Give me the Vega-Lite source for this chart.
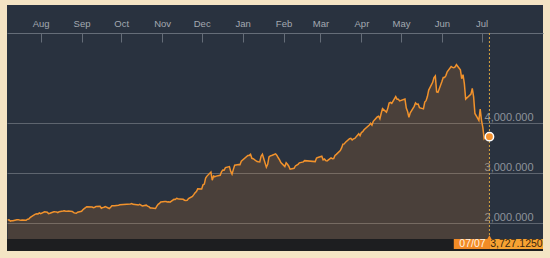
{
  "$schema": "https://vega.github.io/schema/vega-lite/v6.json",
  "width": 536,
  "height": 246,
  "autosize": {"type": "none"},
  "padding": {"left": 7, "top": 5, "right": 7, "bottom": 7},
  "background": "#f4e4c4",
  "config": {
    "view": {"fill": "#29323f", "stroke": null},
    "font": "Liberation Sans"
  },
  "datasets": {
    "series": [
      {"date":"2014-07-07","close":2059},{"date":"2014-07-08","close":2064},{"date":"2014-07-09","close":2038},{"date":"2014-07-10","close":2046},{"date":"2014-07-11","close":2047},
      {"date":"2014-07-14","close":2066},{"date":"2014-07-15","close":2067},{"date":"2014-07-16","close":2060},{"date":"2014-07-17","close":2055},{"date":"2014-07-18","close":2060},
      {"date":"2014-07-21","close":2055},{"date":"2014-07-22","close":2076},{"date":"2014-07-23","close":2078},{"date":"2014-07-24","close":2109},{"date":"2014-07-25","close":2127},
      {"date":"2014-07-28","close":2178},{"date":"2014-07-29","close":2184},{"date":"2014-07-30","close":2182},{"date":"2014-07-31","close":2201},{"date":"2014-08-01","close":2186},
      {"date":"2014-08-04","close":2223},{"date":"2014-08-05","close":2221},{"date":"2014-08-06","close":2217},{"date":"2014-08-07","close":2188},{"date":"2014-08-08","close":2194},
      {"date":"2014-08-11","close":2225},{"date":"2014-08-12","close":2223},{"date":"2014-08-13","close":2222},{"date":"2014-08-14","close":2206},{"date":"2014-08-15","close":2226},
      {"date":"2014-08-18","close":2239},{"date":"2014-08-19","close":2246},{"date":"2014-08-20","close":2237},{"date":"2014-08-21","close":2236},{"date":"2014-08-22","close":2241},
      {"date":"2014-08-25","close":2230},{"date":"2014-08-26","close":2207},{"date":"2014-08-27","close":2200},{"date":"2014-08-28","close":2195},{"date":"2014-08-29","close":2217},
      {"date":"2014-09-01","close":2235},{"date":"2014-09-02","close":2266},{"date":"2014-09-03","close":2288},{"date":"2014-09-04","close":2306},{"date":"2014-09-05","close":2326},
      {"date":"2014-09-09","close":2318},{"date":"2014-09-10","close":2307},{"date":"2014-09-11","close":2315},{"date":"2014-09-12","close":2331},
      {"date":"2014-09-15","close":2334},{"date":"2014-09-16","close":2296},{"date":"2014-09-17","close":2307},{"date":"2014-09-18","close":2315},{"date":"2014-09-19","close":2329},
      {"date":"2014-09-22","close":2290},{"date":"2014-09-23","close":2314},{"date":"2014-09-24","close":2343},{"date":"2014-09-25","close":2345},{"date":"2014-09-26","close":2347},
      {"date":"2014-09-29","close":2357},{"date":"2014-09-30","close":2364},
      {"date":"2014-10-08","close":2382},{"date":"2014-10-09","close":2389},{"date":"2014-10-10","close":2374},
      {"date":"2014-10-13","close":2366},{"date":"2014-10-14","close":2359},{"date":"2014-10-15","close":2373},{"date":"2014-10-16","close":2357},{"date":"2014-10-17","close":2341},
      {"date":"2014-10-20","close":2357},{"date":"2014-10-21","close":2339},{"date":"2014-10-22","close":2326},{"date":"2014-10-23","close":2302},{"date":"2014-10-24","close":2302},
      {"date":"2014-10-27","close":2290},{"date":"2014-10-28","close":2337},{"date":"2014-10-29","close":2373},{"date":"2014-10-30","close":2391},{"date":"2014-10-31","close":2420},
      {"date":"2014-11-03","close":2430},{"date":"2014-11-04","close":2430},{"date":"2014-11-05","close":2419},{"date":"2014-11-06","close":2425},{"date":"2014-11-07","close":2418},
      {"date":"2014-11-10","close":2474},{"date":"2014-11-11","close":2469},{"date":"2014-11-12","close":2494},{"date":"2014-11-13","close":2485},{"date":"2014-11-14","close":2478},
      {"date":"2014-11-17","close":2474},{"date":"2014-11-18","close":2456},{"date":"2014-11-19","close":2450},{"date":"2014-11-20","close":2452},{"date":"2014-11-21","close":2487},
      {"date":"2014-11-24","close":2532},{"date":"2014-11-25","close":2567},{"date":"2014-11-26","close":2604},{"date":"2014-11-27","close":2630},{"date":"2014-11-28","close":2683},
      {"date":"2014-12-01","close":2680},{"date":"2014-12-02","close":2763},{"date":"2014-12-03","close":2779},{"date":"2014-12-04","close":2899},{"date":"2014-12-05","close":2938},
      {"date":"2014-12-08","close":3020},{"date":"2014-12-09","close":2856},{"date":"2014-12-10","close":2940},{"date":"2014-12-11","close":2925},{"date":"2014-12-12","close":2938},
      {"date":"2014-12-15","close":2953},{"date":"2014-12-16","close":3021},{"date":"2014-12-17","close":3061},{"date":"2014-12-18","close":3057},{"date":"2014-12-19","close":3108},
      {"date":"2014-12-22","close":3128},{"date":"2014-12-23","close":3032},{"date":"2014-12-24","close":2977},{"date":"2014-12-25","close":3072},{"date":"2014-12-26","close":3157},
      {"date":"2014-12-29","close":3168},{"date":"2014-12-30","close":3166},{"date":"2014-12-31","close":3235},
      {"date":"2015-01-05","close":3351},{"date":"2015-01-06","close":3352},{"date":"2015-01-07","close":3374},{"date":"2015-01-08","close":3294},{"date":"2015-01-09","close":3285},
      {"date":"2015-01-12","close":3229},{"date":"2015-01-13","close":3223},{"date":"2015-01-14","close":3222},{"date":"2015-01-15","close":3336},{"date":"2015-01-16","close":3376},
      {"date":"2015-01-19","close":3116},{"date":"2015-01-20","close":3173},{"date":"2015-01-21","close":3323},{"date":"2015-01-22","close":3343},{"date":"2015-01-23","close":3351},
      {"date":"2015-01-26","close":3383},{"date":"2015-01-27","close":3352},{"date":"2015-01-28","close":3305},{"date":"2015-01-29","close":3262},{"date":"2015-01-30","close":3210},
      {"date":"2015-02-02","close":3128},{"date":"2015-02-03","close":3204},{"date":"2015-02-04","close":3174},{"date":"2015-02-05","close":3136},{"date":"2015-02-06","close":3076},
      {"date":"2015-02-09","close":3095},{"date":"2015-02-10","close":3141},{"date":"2015-02-11","close":3157},{"date":"2015-02-12","close":3173},{"date":"2015-02-13","close":3203},
      {"date":"2015-02-16","close":3222},{"date":"2015-02-17","close":3247},{"date":"2015-02-25","close":3228},{"date":"2015-02-26","close":3298},{"date":"2015-02-27","close":3310},
      {"date":"2015-03-02","close":3336},{"date":"2015-03-03","close":3263},{"date":"2015-03-04","close":3280},{"date":"2015-03-05","close":3248},{"date":"2015-03-06","close":3241},
      {"date":"2015-03-09","close":3302},{"date":"2015-03-10","close":3286},{"date":"2015-03-11","close":3290},{"date":"2015-03-12","close":3349},{"date":"2015-03-13","close":3372},
      {"date":"2015-03-16","close":3449},{"date":"2015-03-17","close":3502},{"date":"2015-03-18","close":3577},{"date":"2015-03-19","close":3582},{"date":"2015-03-20","close":3617},
      {"date":"2015-03-23","close":3688},{"date":"2015-03-24","close":3692},{"date":"2015-03-25","close":3661},{"date":"2015-03-26","close":3682},{"date":"2015-03-27","close":3691},
      {"date":"2015-03-30","close":3786},{"date":"2015-03-31","close":3748},
      {"date":"2015-04-01","close":3810},{"date":"2015-04-02","close":3825},{"date":"2015-04-03","close":3864},
      {"date":"2015-04-07","close":3961},{"date":"2015-04-08","close":3995},{"date":"2015-04-09","close":3958},{"date":"2015-04-10","close":4034},
      {"date":"2015-04-13","close":4121},{"date":"2015-04-14","close":4135},{"date":"2015-04-15","close":4084},{"date":"2015-04-16","close":4194},{"date":"2015-04-17","close":4287},
      {"date":"2015-04-20","close":4217},{"date":"2015-04-21","close":4293},{"date":"2015-04-22","close":4398},{"date":"2015-04-23","close":4414},{"date":"2015-04-24","close":4394},
      {"date":"2015-04-27","close":4527},{"date":"2015-04-28","close":4476},{"date":"2015-04-29","close":4476},{"date":"2015-04-30","close":4441},
      {"date":"2015-05-04","close":4480},{"date":"2015-05-05","close":4298},{"date":"2015-05-06","close":4229},{"date":"2015-05-07","close":4112},{"date":"2015-05-08","close":4205},
      {"date":"2015-05-11","close":4333},{"date":"2015-05-12","close":4401},{"date":"2015-05-13","close":4375},{"date":"2015-05-14","close":4378},{"date":"2015-05-15","close":4308},
      {"date":"2015-05-18","close":4283},{"date":"2015-05-19","close":4418},{"date":"2015-05-20","close":4446},{"date":"2015-05-21","close":4529},{"date":"2015-05-22","close":4658},
      {"date":"2015-05-25","close":4813},{"date":"2015-05-26","close":4910},{"date":"2015-05-27","close":4941},{"date":"2015-05-28","close":4620},{"date":"2015-05-29","close":4612},
      {"date":"2015-06-01","close":4829},{"date":"2015-06-02","close":4910},{"date":"2015-06-03","close":4910},{"date":"2015-06-04","close":4948},{"date":"2015-06-05","close":5023},
      {"date":"2015-06-08","close":5131},{"date":"2015-06-09","close":5113},{"date":"2015-06-10","close":5106},{"date":"2015-06-11","close":5121},{"date":"2015-06-12","close":5166},
      {"date":"2015-06-15","close":5062},{"date":"2015-06-16","close":4887},{"date":"2015-06-17","close":4967},{"date":"2015-06-18","close":4786},{"date":"2015-06-19","close":4478},
      {"date":"2015-06-23","close":4577},{"date":"2015-06-24","close":4691},{"date":"2015-06-25","close":4528},{"date":"2015-06-26","close":4192},
      {"date":"2015-06-29","close":4053},{"date":"2015-06-30","close":4277},
      {"date":"2015-07-01","close":4053},{"date":"2015-07-02","close":3912},{"date":"2015-07-03","close":3687},
      {"date":"2015-07-06","close":3776},{"date":"2015-07-07","close":3727.125}
    ],
    "last": [{"date":"2015-07-07","close":3727.125,"label":"07/07"}]
  },
  "layer": [
    {
      "data": {"name": "last"},
      "mark": {"type": "rect", "color": "#1d1e20"},
      "encoding": {
        "x": {"datum": {"year":2014,"month":7,"date":6,"hours":12,"utc":true}, "type": "temporal"},
        "x2": {"datum": {"year":2015,"month":8,"date":16,"hours":14,"utc":true}},
        "y": {"datum": 1440, "type": "quantitative"},
        "y2": {"datum": 1680}
      }
    },
    {
      "data": {"name": "series"},
      "mark": {"type": "area", "color": "#f08a24", "opacity": 0.17},
      "encoding": {
        "x": {
          "field": "date", "type": "temporal",
          "scale": {"type": "utc", "domain": [{"year":2014,"month":7,"date":6,"hours":12,"utc":true},{"year":2015,"month":8,"date":16,"hours":14,"utc":true}]},
          "axis": {
            "orient": "top", "offset": -28, "title": null,
            "labelExpr": "utcFormat(datum.value, '%b')",
            "values": [
              {"year":2014,"month":8,"date":1,"utc":true},{"year":2014,"month":9,"date":1,"utc":true},{"year":2014,"month":10,"date":1,"utc":true},
              {"year":2014,"month":11,"date":1,"utc":true},{"year":2014,"month":12,"date":1,"utc":true},{"year":2015,"month":1,"date":1,"utc":true},
              {"year":2015,"month":2,"date":1,"utc":true},{"year":2015,"month":3,"date":1,"utc":true},{"year":2015,"month":4,"date":1,"utc":true},
              {"year":2015,"month":5,"date":1,"utc":true},{"year":2015,"month":6,"date":1,"utc":true},{"year":2015,"month":7,"date":1,"utc":true}
            ],
            "grid": false, "domainColor": "#656d78", "tickColor": "#656d78", "tickSize": -9,
            "labelColor": "#a3a9b1", "labelFontSize": 9.5, "labelPadding": 14, "labelFlush": false, "labelOverlap": false
          }
        },
        "y": {
          "field": "close", "type": "quantitative",
          "scale": {"domain": [1440, 6360], "nice": false, "zero": false},
          "axis": {
            "orient": "right", "title": null, "values": [2000, 3000, 4000], "format": ",.3f",
            "grid": true, "gridColor": "#ffffff", "gridOpacity": 0.25, "domain": false, "ticks": false,
            "labelAlign": "right", "labelPadding": -10, "labelBaseline": "bottom", "labelOffset": -1,
            "labelColor": "#8d939b", "labelFontSize": 11
          }
        },
        "y2": {"datum": 1680}
      }
    },
    {
      "data": {"name": "series"},
      "mark": {"type": "line", "color": "#f1922c", "strokeWidth": 1.5},
      "encoding": {
        "x": {"field": "date", "type": "temporal"},
        "y": {"field": "close", "type": "quantitative"}
      }
    },
    {
      "data": {"name": "last"},
      "mark": {"type": "rule", "color": "#d8a440", "strokeDash": [2, 2], "strokeWidth": 1},
      "encoding": {
        "x": {"field": "date", "type": "temporal"},
        "y": {"datum": 5800, "type": "quantitative"},
        "y2": {"datum": 1700}
      }
    },
    {
      "data": {"name": "last"},
      "mark": {"type": "point", "shape": "circle", "filled": true, "size": 70, "color": "#f5922f", "stroke": "#ffffff", "strokeWidth": 1.5, "opacity": 1},
      "encoding": {
        "x": {"field": "date", "type": "temporal"},
        "y": {"field": "close", "type": "quantitative"}
      }
    },
    {
      "data": {"name": "last"},
      "mark": {"type": "rect", "color": "#f28b26"},
      "encoding": {
        "x": {"datum": {"year":2015,"month":6,"date":10,"utc":true}, "type": "temporal"},
        "x2": {"datum": {"year":2015,"month":7,"date":7,"hours":10,"utc":true}},
        "y": {"datum": 1480, "type": "quantitative"},
        "y2": {"datum": 1680}
      }
    },
    {
      "data": {"name": "last"},
      "mark": {"type": "rect", "color": "#f6a232"},
      "encoding": {
        "x": {"datum": {"year":2015,"month":7,"date":7,"hours":10,"utc":true}, "type": "temporal"},
        "x2": {"datum": {"year":2015,"month":8,"date":16,"hours":14,"utc":true}},
        "y": {"datum": 1480, "type": "quantitative"},
        "y2": {"datum": 1680}
      }
    },
    {
      "data": {"name": "last"},
      "mark": {"type": "point", "shape": "triangle-up", "filled": true, "size": 20, "color": "#f28b26", "opacity": 1},
      "encoding": {
        "x": {"field": "date", "type": "temporal"},
        "y": {"datum": 1715, "type": "quantitative"}
      }
    },
    {
      "data": {"name": "last"},
      "mark": {"type": "text", "color": "#fff4e0", "fontSize": 10.5, "align": "center", "baseline": "middle", "dx": -17},
      "encoding": {
        "x": {"field": "date", "type": "temporal"},
        "y": {"datum": 1580, "type": "quantitative"},
        "text": {"field": "label", "type": "nominal"}
      }
    },
    {
      "data": {"name": "last"},
      "mark": {"type": "text", "color": "#3a2810", "fontSize": 10.5, "align": "center", "baseline": "middle", "dx": 27},
      "encoding": {
        "x": {"field": "date", "type": "temporal"},
        "y": {"datum": 1580, "type": "quantitative"},
        "text": {"field": "close", "type": "quantitative", "format": ",.4f"}
      }
    }
  ]
}
